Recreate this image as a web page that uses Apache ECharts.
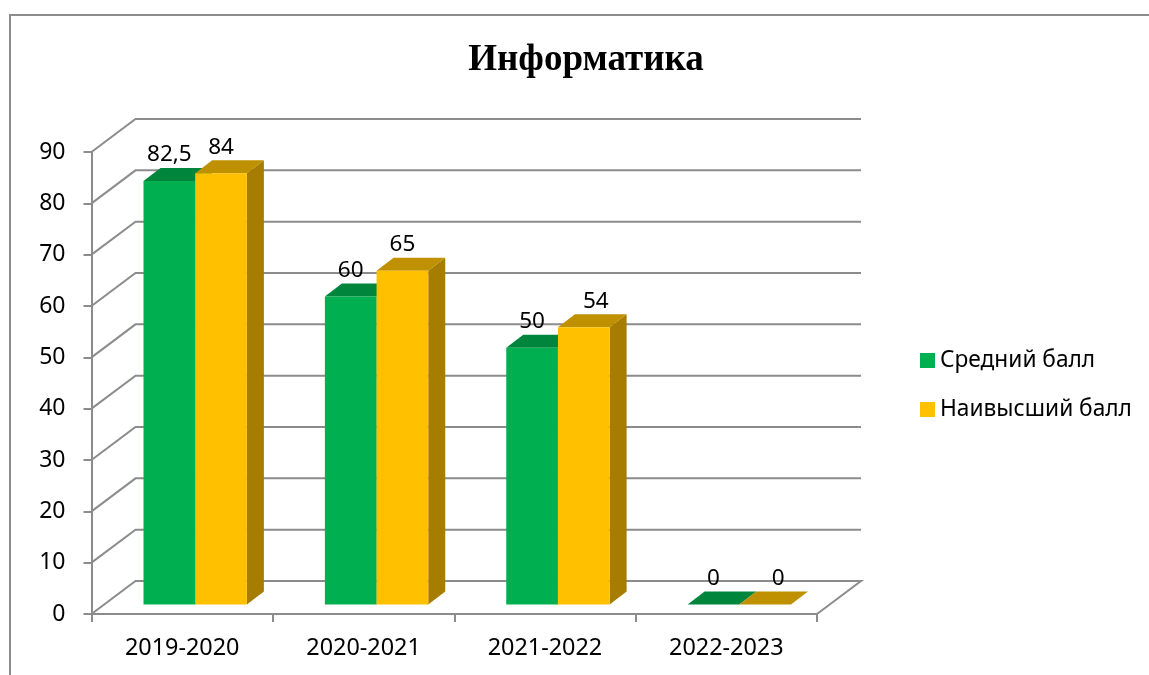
<!DOCTYPE html>
<html>
<head>
<meta charset="utf-8">
<style>
  html, body { margin: 0; padding: 0; background: #fff; }
  #chart { width: 1149px; height: 675px; }
</style>
<script src="https://cdn.jsdelivr.net/npm/echarts@6/dist/echarts.min.js"></script>
</head>
<body>
<div id="chart"></div>
<script>
const categories = ["2019-2020", "2020-2021", "2021-2022", "2022-2023"];
const avgScores = [82.5, 60, 50, 0];
const topScores = [84, 65, 54, 0];
const wallTicks = [0, 10, 20, 30, 40, 50, 60, 70, 80, 90];

const font = "'Noto Sans', sans-serif";
const lineColor = "#8c8c8c";
// 3d look: depth of the chart box and of the bars, in px
const wallDepth = [44, -33];
const barDepth = [17, -13];
const floorShift = [13, -9.5];
// some labels were moved by hand in the original
const labelNudge = { "1-2": 12, "1-3": 13 };

function wallItem(params, api) {
  const v = api.value(1);
  const band = api.size([1, 0])[0];
  const left = api.coord([0, v]);
  const right = api.coord([categories.length - 1, v]);
  const x0 = left[0] - band / 2;
  const x1 = right[0] + band / 2;
  const y = left[1];
  const style = { stroke: lineColor, lineWidth: 2, fill: null };
  const pts = [[x0, y], [x0 + wallDepth[0], y + wallDepth[1]], [x1 + wallDepth[0], y + wallDepth[1]]];
  if (v === 0) pts.push([x1, y]);
  return { type: "polyline", shape: { points: pts }, style: style, silent: true };
}

function barRenderer(slot, front, top, side) {
  return function (params, api) {
    const i = api.value(0);
    const v = api.value(1);
    const band = api.size([1, 0])[0];
    const w = band * 0.285;
    const x = api.coord([i, v])[0] - band / 2 + floorShift[0] + band * 0.215 + slot * w;
    const yTop = api.coord([i, v])[1] + floorShift[1];
    const yBase = api.coord([i, 0])[1] + floorShift[1];
    const dx = barDepth[0], dy = barDepth[1];
    const nudge = labelNudge[slot + "-" + i] || 0;
    const children = [
      { type: "polygon", shape: { points: [[x + w, yTop], [x + w + dx, yTop + dy], [x + w + dx, yBase + dy], [x + w, yBase]] }, style: { fill: side } },
      { type: "polygon", shape: { points: [[x, yTop], [x + w, yTop], [x + w + dx, yTop + dy], [x + dx, yTop + dy]] }, style: { fill: top } },
      { type: "rect", shape: { x: x, y: yTop, width: w, height: yBase - yTop }, style: { fill: front } },
      { type: "text", style: { text: String(v).replace(".", ","), x: x + w / 2 + nudge, y: yTop - 26, align: "center", verticalAlign: "middle", font: "22.5px " + font, fill: "#000" } }
    ];
    return { type: "group", children: children };
  };
}

const chart = echarts.init(document.getElementById("chart"), null, { renderer: "canvas" });
chart.setOption({
  animation: false,
  backgroundColor: "#fff",
  title: {
    text: "Информатика",
    left: 581,
    top: 37,
    textAlign: "center",
    textStyle: { fontFamily: "'Liberation Serif', serif", fontWeight: "bold", fontSize: 37, color: "#000" }
  },
  legend: {
    orient: "vertical",
    left: 915,
    top: 344,
    itemWidth: 15,
    itemHeight: 15,
    itemGap: 26,
    icon: "rect",
    data: ["Средний балл", "Наивысший балл"],
    textStyle: { fontFamily: font, fontSize: 22.7, color: "#000" }
  },
  grid: { left: 91.5, right: 332, top: 152, bottom: 61 },
  xAxis: {
    type: "category",
    data: categories,
    axisLine: { lineStyle: { color: lineColor, width: 2 } },
    axisTick: { show: true, alignWithLabel: false, length: 8, lineStyle: { color: lineColor, width: 2 } },
    axisLabel: { color: "#000", fontFamily: font, fontSize: 23.4, margin: 23 },
    splitLine: { show: false }
  },
  yAxis: {
    type: "value",
    min: 0,
    max: 90,
    interval: 10,
    axisLine: { show: true, lineStyle: { color: lineColor, width: 2 } },
    axisTick: { show: true, length: 8, lineStyle: { color: lineColor, width: 2 } },
    axisLabel: { color: "#000", fontFamily: font, fontSize: 23, margin: 26, padding: [3, 0, 0, 0] },
    splitLine: { show: false }
  },
  graphic: [
    {
      type: "polyline",
      shape: { points: [[10, 675], [10, 15], [1149, 15]] },
      style: { stroke: "#8c8c8c", lineWidth: 2, fill: null },
      silent: true
    }
  ],
  series: [
    {
      type: "custom",
      name: "wall",
      silent: true,
      z: 1,
      data: wallTicks.map(function (v) { return [0, v]; }),
      renderItem: wallItem
    },
    {
      type: "custom",
      name: "Средний балл",
      z: 2,
      itemStyle: { color: "#00B050" },
      data: avgScores.map(function (v, i) { return [i, v]; }),
      renderItem: barRenderer(0, "#00B050", "#00863C", "#00863C")
    },
    {
      type: "custom",
      name: "Наивысший балл",
      z: 3,
      itemStyle: { color: "#FFC000" },
      data: topScores.map(function (v, i) { return [i, v]; }),
      renderItem: barRenderer(1, "#FFC000", "#BF9000", "#A67D00")
    }
  ]
});
</script>
</body>
</html>
